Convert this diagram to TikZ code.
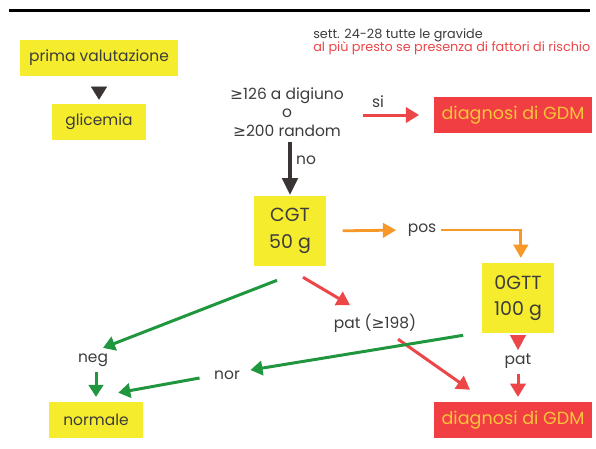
\documentclass[tikz,border=0pt]{standalone}
\usepackage{fontspec}
\setmainfont{Poppins}
\newfontfamily\dvsans{DejaVu Sans}
\usetikzlibrary{arrows.meta}
\definecolor{ybox}{RGB}{246,236,46}
\definecolor{rbox}{RGB}{240,62,66}
\definecolor{rtext}{RGB}{248,196,58}
\definecolor{redar}{RGB}{236,70,72}
\definecolor{grn}{RGB}{32,150,62}
\definecolor{orng}{RGB}{247,152,40}
\definecolor{dgray}{RGB}{58,52,52}
\definecolor{txtgray}{RGB}{60,60,60}
\newcommand{\gesym}{{\dvsans ≥}}

\begin{document}
\begin{tikzpicture}[x=0.025cm,y=-0.025cm,font=\fontsize{11}{13}\selectfont,text=txtgray,
  yb/.style={fill=ybox,inner sep=0pt,align=center,minimum height=0.9cm},
  rb/.style={fill=rbox,text=rtext,inner sep=0pt,minimum width=3.93cm,minimum height=0.9cm,font=\fontsize{12.5}{14}\selectfont},
  lab/.style={inner sep=1pt},
  grarr/.style={draw=grn,line width=0.075cm,-{Triangle[length=0.3cm,width=0.36cm]}},
  rdarr/.style={draw=redar,line width=0.075cm,-{Triangle[length=0.33cm,width=0.38cm]}},
  orarr/.style={draw=orng,line width=0.07cm,-{Triangle[length=0.33cm,width=0.36cm]}}]
  \useasboundingbox (0,0) rectangle (596,448);
  \draw[line width=0.075cm] (9,10) -- (590,10);
  \node[anchor=north west,align=left,inner sep=0pt,font=\fontsize{9.1}{9.6}\selectfont] (sett) at (313,28)
    {sett. 24-28 tutte le gravide\\\textcolor{redar}{al più presto se presenza di fattori di rischio}};
  \node[yb,minimum width=3.95cm] (pv) at (99,58) {prima valutazione};
  \node[yb,minimum width=2.35cm] (gl) at (99,122) {glicemia};
  \node[align=center,inner sep=1pt,font=\fontsize{11}{13.2}\selectfont] (crit) at (287,112)
    {\gesym126 a digiuno\\o\\\gesym200 random};
  \node[rb] (gdm1) at (513,115) {diagnosi di GDM};
  \node[lab] (si) at (378,102) {si};
  \node[lab] (no) at (306,160) {no};
  \node[yb,minimum width=1.78cm,minimum height=1.75cm,font=\fontsize{13.5}{19}\selectfont] (cgt) at (290,231) {CGT\\50 g};
  \node[lab] (pos) at (422,230) {pos};
  \node[yb,minimum width=1.78cm,minimum height=1.75cm,font=\fontsize{13.5}{19}\selectfont] (ogtt) at (518,298) {0GTT\\100 g};
  \node[lab] (pat1) at (375,323) {pat (\gesym198)};
  \node[lab] (neg) at (93,360) {neg};
  \node[lab] (nor) at (227,375) {nor};
  \node[lab] (pat2) at (518,361) {pat};
  \node[yb,minimum width=2.35cm] (norm) at (96,420) {normale};
  \node[rb] (gdm2) at (513,420) {diagnosi di GDM};
  \draw[draw=dgray,line width=0.3pt,shorten <=0.275cm,shorten >=0.1cm,-{Triangle[length=0.325cm,width=0.4cm]}] (pv) -- (gl);
  \draw[draw=dgray,line width=0.1cm,shorten <=0.1cm,shorten >=0.02cm,-{Triangle[length=0.42cm,width=0.38cm]}] (crit.south -| cgt) -- (cgt.north);
  \draw[rdarr,shorten <=0.45cm,shorten >=0.375cm] (crit.east |- gdm1.west) -- (gdm1.west);
  \draw[orarr,shorten <=0.42cm,shorten >=0.25cm] (cgt.east) -- (pos.west);
  \draw[draw=orng,line width=0.07cm,shorten <=0.08cm,shorten >=0.12cm,-{Triangle[length=0.33cm,width=0.36cm]}] (pos.east) -| ([xshift=2]ogtt.north);
  \draw[rdarr] ([shift={(13,11)}]cgt.south) -- ([shift={(-25,-7)}]pat1.north);
  \draw[rdarr,shorten <=0.23cm,shorten >=0.52cm] (pat1) -- (gdm2);
  \draw[grarr] ([shift={(-13,14)}]cgt.south) -- ([shift={(10,-4)}]neg.north);
  \draw[grarr,shorten <=0.1cm,shorten >=0.12cm] (neg.south -| norm.north) -- (norm.north);
  \draw[grarr] ([shift={(-19,2)}]ogtt.south west) -- ([shift={(9,-5)}]nor.east);
  \draw[grarr] ([shift={(-13,3)}]nor.west) -- ([shift={(-25,-9)}]norm.north east);
  \draw[draw=redar,line width=0.3pt,shorten <=0.1cm,shorten >=0.05cm,-{Triangle[length=0.375cm,width=0.4cm]}] (ogtt.south) -- ([xshift=0]pat2.north);
  \draw[rdarr,shorten <=0.1cm,shorten >=0.12cm] (pat2.south) -- (pat2.south |- gdm2.north);
\end{tikzpicture}
\end{document}
